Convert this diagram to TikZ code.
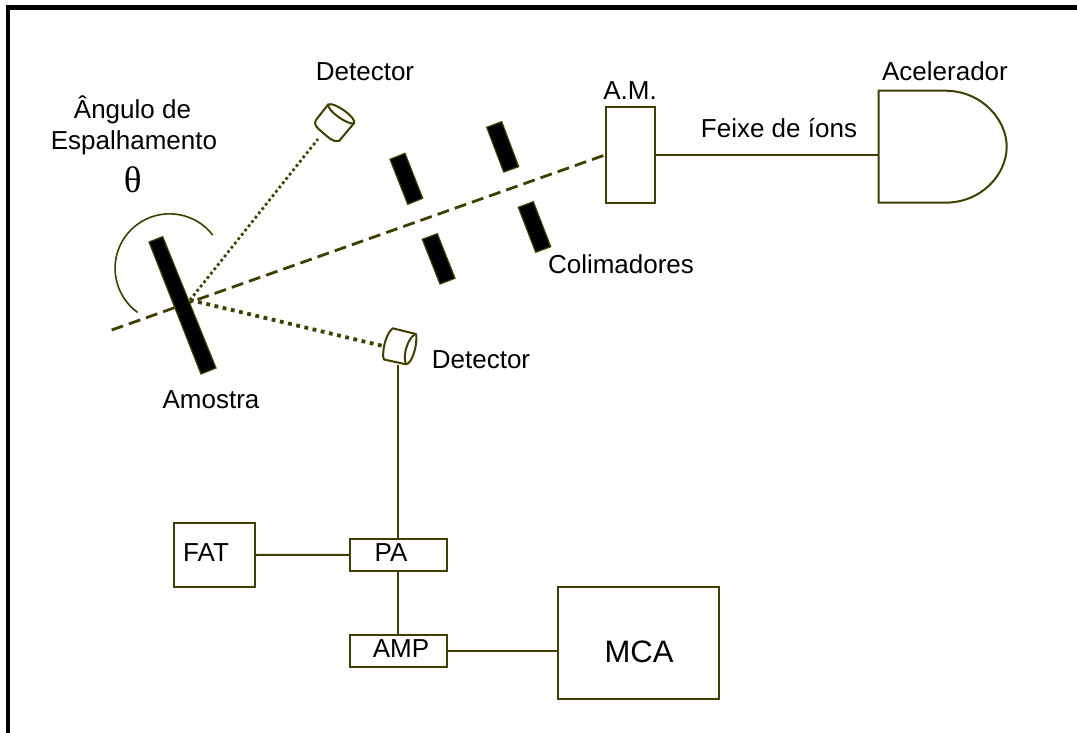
\documentclass[tikz,border=0pt]{standalone}
\usepackage{fontspec}
\setmainfont{Liberation Sans}
\newfontfamily\thetafont{Liberation Serif}
\definecolor{olive}{HTML}{3F3F00}
\tikzset{
  wire/.style={draw=olive,line width=2pt},
  boxnode/.style={draw=olive,line width=2pt,rectangle,inner sep=0pt,fill=white},
  plate/.style={draw=olive,line width=1.2pt,fill=black},
  txt/.style={anchor=base,inner sep=0pt,text=black,font=\fontsize{26}{30}\selectfont},
  beam/.style={draw=olive,line width=2.8pt,dash pattern=on 12pt off 6.2pt},
  thindots/.style={draw=olive,line width=2.7pt,dash pattern=on 2.7pt off 2.8pt},
  thickdots/.style={draw=olive,line width=3.8pt,dash pattern=on 3.8pt off 4.6pt},
  detbody/.style={draw=olive,line width=2pt,fill=white,line join=round}
}
\begin{document}
\begin{tikzpicture}[x=1pt,y=-1pt]
\useasboundingbox (0,0) rectangle (1077,733);
\fill[white] (0,0) rectangle (1077,733);
% frame
\draw[black,line width=4.6pt] (8,733) -- (8,7.5) -- (1077,7.5);

% anchors
\coordinate (hit) at (190,300);
\coordinate (beamfree) at (111.7,330);
\coordinate (detAfoot) at (318,139);
\coordinate (detBfoot) at (383,346);
\coordinate (detBout) at (398.3,365);
\coordinate (acelin) at (878.7,154.7);

% boxes
\node[boxnode,minimum width=48.7pt,minimum height=96pt] (am) at (630.35,154.7) {};
\node[boxnode,minimum width=80.7pt,minimum height=64.6pt] (fat) at (214.35,555) {};
\node[boxnode,minimum width=96.7pt,minimum height=32.3pt] (pa) at (398.35,554.85) {};
\node[boxnode,minimum width=96.7pt,minimum height=32.3pt] (amp) at (398.35,651.15) {};
\node[boxnode,minimum width=160.4pt,minimum height=112pt] (mca) at (638.5,642.7) {};

% beam and scattered paths
\draw[beam] (beamfree) -- (am.west |- 0,155);
\draw[thindots] (hit) -- (detAfoot);
\draw[thickdots] (hit) -- (detBfoot);

% arc
\draw[wire,line width=1.6pt] (212.7,235) arc[start angle=-37.7,end angle=-234,radius=54.5];

% sample
\draw[plate] (149,242) -- (162.7,236.7) -- (216,368) -- (201,374) -- cycle;
% collimators
\draw[plate] (390,159.3) -- (405,153.3) -- (422.7,198.3) -- (407.7,204.3) -- cycle;
\draw[plate] (486.7,127.3) -- (501.7,121.7) -- (518.7,166.7) -- (503.7,172) -- cycle;
\draw[plate] (422.3,239.3) -- (437.3,233.7) -- (455,278.3) -- (440,284) -- cycle;
\draw[plate] (518.3,207.3) -- (533.3,201.7) -- (550.7,246.7) -- (535.7,252.3) -- cycle;

% detector 1
\draw[detbody] (328.3,104.3) -- (316,120) .. controls (313,124) and (317,128) .. (322,132)
  .. controls (327,136) and (333,143) .. (339,141) -- (354,123.3);
\draw[detbody] (328.3,104.3) .. controls (335,102) and (357,118) .. (354,123.3)
  .. controls (349,126) and (326,110) .. (328.3,104.3) -- cycle;
% detector 2
\draw[detbody] (392.7,328.3) .. controls (388,332) and (384,342) .. (383.3,352)
  .. controls (383,356) and (383,358) .. (384,359.5) -- (406,364.3)
  .. controls (412,364) and (418,344) .. (416,334) -- cycle;
\draw[detbody] (416,334) .. controls (409,336) and (402,354) .. (406,364.3);

% accelerator
\draw[wire] (878.7,90.7) -- (945,90.7) .. controls (982,90.7) and (1006.7,120) .. (1006.7,146.7)
  .. controls (1006.7,174) and (982,202.7) .. (945,202.7) -- (878.7,202.7) -- cycle;

% connectors
\draw[wire] (am.east |- acelin) -- (acelin);
\draw[wire] (detBout) -- (pa.north -| detBout);
\draw[wire] (fat.east) -- (pa.west);
\draw[wire] (pa.south) -- (amp.north);
\draw[wire] (amp.east) -- (mca.west |- amp.east);

% text
\node[txt] (t1) at (365,81) {Detector};
\node[txt] (t2) at (132.5,118.5) {Ângulo de};
\node[txt] (t3) at (134,150) {Espalhamento};
\node[txt,font=\thetafont\fontsize{37}{42}\selectfont] (t4) at (132.7,192.7) {θ};
\node[txt] (t5) at (211,408) {Amostra};
\node[txt] (t6) at (481,368) {Detector};
\node[txt] (t7) at (779,138) {Feixe de íons};
\node[txt] (t8) at (630,100) {A.M.};
\node[txt] (t9) at (945,81) {Acelerador};
\node[txt] (t10) at (621,273) {Colimadores};
\node[txt] (t11) at (206,561) {FAT};
\node[txt] (t12) at (391,561) {PA};
\node[txt] (t13) at (401,657) {AMP};
\node[txt,font=\fontsize{31}{36}\selectfont] (t14) at (639,662) {MCA};
\end{tikzpicture}
\end{document}
